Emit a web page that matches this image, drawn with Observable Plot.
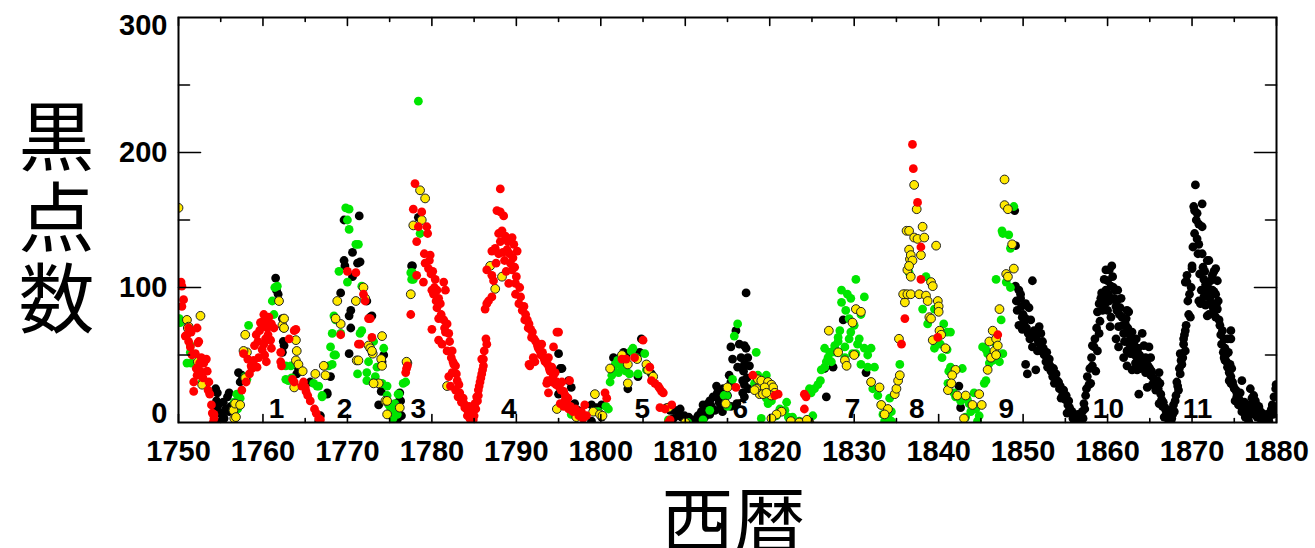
<!DOCTYPE html>
<html><head><meta charset="utf-8">
<script src="https://cdn.jsdelivr.net/npm/d3@7"></script>
<script src="https://cdn.jsdelivr.net/npm/@observablehq/plot@0.6"></script>
<style>body{margin:0;background:#fff}</style>
</head><body><div id="chart"></div>
<script>
// Monthly sunspot numbers, grouped by dot colour: [year, value]
const blackPts = [
[1754.4,25],[1754.6,22],[1754.5,16],[1754.8,14],[1754.6,11],[1755.0,7],[1755.2,5],[1755.1,1],[1754.9,0],[1755.4,3],[1756.0,22],[1755.8,19],[1756.2,12],[1756.0,8],[1755.6,10],[1755.3,15],[1757.1,37],[1757.3,30],[1757.5,35],
[1761.5,107],[1761.6,98],[1761.8,95],[1762.3,77],[1762.4,70],[1762.4,60],[1762.5,57],[1762.3,52],[1764.2,40],[1764.0,36],[1765.6,30],[1766.8,5],[1766.6,1],[1767.6,21],[1768.0,34],[1767.6,22],
[1769.6,150],[1771.4,153],[1769.6,120],[1769.7,116],[1770.6,126],[1771.2,118],[1770.6,108],[1769.2,96],[1770.2,79],[1770.4,70],[1770.2,51],[1770.4,83],[1772.7,78],[1774.3,50],[1774.0,23],[1773.7,13],[1771.5,119],[1772.3,90],[1772.9,79],[1774.1,45],[1776.0,15],[1776.3,16],[1776.1,10],[1775.9,2],[1776.4,5],[1776.2,22],[1777.7,116],[1778.4,152],[1777.6,116],
[1795.0,51],[1795.2,40],[1795.4,40],[1796.5,26],[1795.0,21],[1796.2,31],[1796.9,14],[1797.3,9],[1798.9,13],[1799.5,11],[1800.1,13],[1800.1,4],[1798.9,1],[1801.5,48],[1802.7,52],[1803.0,50],[1804.6,52],[1804.8,62],[1804.4,34],[1803.2,25],[1806.0,36],
[1807.8,11],[1808.2,9],[1808.8,9],[1809.2,5],[1809.6,4],[1808.6,3],[1809.9,5],[1810.2,2],[1810.6,1],[1811.0,0],[1811.5,5],[1811.9,8],[1812.1,13],[1812.7,14],[1812.9,16],[1813.3,19],[1813.7,27],[1813.9,18],[1813.5,9],[1812.9,6],[1814.2,12],[1814.7,19],[1814.5,25],[1815.0,20],[1815.4,30],[1815.2,35],
[1809.4,10],[1810.4,4],[1810.9,2],[1811.3,1],[1811.7,3],[1812.3,4],[1812.5,10],[1813.1,12],[1813.8,22],[1814.0,15],[1814.4,8],
[1817.2,96],[1816.0,68],[1816.4,58],[1817.0,57],[1817.2,55],[1815.4,56],[1815.6,47],[1816.6,48],[1817.4,48],[1817.0,43],[1817.6,42],[1816.2,41],[1816.9,38],[1816.8,31],[1817.0,28],[1816.8,22],[1817.0,19],[1815.4,12],[1816.1,14],[1817.3,33],[1817.5,25],
[1826.7,19],[1826.5,40],[1827.5,41],[1828.7,76],[1831.4,37],[1842.4,27],[1842.6,11],
[1849.0,157],[1849.1,131],[1849.1,101],[1849.5,98],[1849.7,95],[1849.7,92],[1851.1,105],[1850.3,88],[1850.7,85],[1849.3,83],[1849.9,78],[1850.3,77],[1850.9,76],[1849.5,72],[1849.9,69],[1850.4,70],[1851.3,68],[1851.9,71],[1852.1,66],[1851.5,63],[1850.8,62],[1852.3,60],[1851.1,56],[1851.7,53],[1852.1,53],[1852.5,50],[1850.3,43],[1851.5,39],[1850.5,36],[1853.1,47],[1852.7,45],[1852.9,41],[1853.3,38],[1853.5,34],[1853.7,29],[1854.0,31],[1854.3,25],[1854.7,21],[1854.5,18],[1855.0,17],[1855.3,13],[1855.6,9],[1855.2,7],[1856.0,5],[1856.3,3],[1856.5,6],[1856.8,1],[1856.1,0],[1857.0,8],[1857.2,14],[1857.4,20],[1857.6,34],[1857.8,28],[1858.0,29],[1858.2,42],[1858.2,57],[1858.4,56],[1858.6,38],[1858.8,53],[1859.0,66],[1858.8,82],[1859.0,88],[1859.2,92],[1859.4,83],[1859.8,98],[1860.0,105],[1859.6,106],[1859.8,113],[1860.5,116],[1860.2,113],[1860.4,101],[1860.7,100],[1860.9,98],[1861.2,98],[1861.1,90],[1860.2,90],[1860.0,83],[1860.4,78],[1861.1,83],[1861.5,85],[1861.7,78],[1862.1,73],[1862.3,83],[1862.5,82],[1861.3,71],[1860.3,71],[1861.9,66],[1862.5,66],[1862.7,62],[1862.9,67],[1864.1,66],[1861.0,62],[1861.3,56],[1863.1,58],[1862.3,53],[1861.9,48],[1862.7,51],[1863.5,48],[1864.3,57],[1864.9,56],[1863.7,43],[1863.9,40],[1862.3,42],[1862.9,39],[1863.5,39],[1864.5,48],[1865.1,48],[1864.5,37],[1865.1,35],[1866.1,37],[1865.9,31],[1865.3,28],[1864.7,26],[1863.7,21],[1865.7,24],[1866.3,21],[1866.1,14],[1866.5,12],[1866.9,9],[1866.7,4],[1867.3,5],[1867.5,1],[1867.7,6],[1867.8,13],[1868.0,16],[1868.4,24],[1868.2,30],[1868.6,36],[1868.8,43],[1868.6,51],[1869.2,53],[1869.0,58],[1869.0,62],[1869.2,68],[1869.6,80],[1869.8,78],[1869.2,104],[1869.4,104],[1870.0,114],[1869.4,109],
[1849.2,90],[1849.8,86],[1850.0,80],[1850.1,74],[1850.6,66],[1851.0,64],[1851.8,60],[1852.0,58],[1852.4,55],[1852.8,52],[1853.0,44],[1853.2,42],[1853.6,40],[1853.9,36],[1854.2,30],[1854.4,27],[1854.8,24],[1854.9,19],[1855.1,20],[1855.4,16],[1855.5,11],[1855.8,8],[1855.9,3],[1856.2,2],[1856.6,0],[1856.9,4],[1857.1,3],[1857.3,10],[1857.5,25],[1857.9,40],[1858.1,48],[1858.5,62],[1858.7,70],[1859.1,75],[1859.3,96],[1859.5,93],[1859.7,88],[1860.1,95],[1860.6,108],[1860.8,92],[1861.0,86],[1861.4,80],[1861.6,92],[1861.8,72],[1862.0,60],[1862.2,77],[1862.4,70],[1862.6,58],[1862.8,55],[1863.0,52],[1863.2,50],[1863.3,44],[1863.4,62],[1863.6,55],[1863.8,50],[1864.0,45],[1864.2,42],[1864.4,40],[1864.6,44],[1864.8,42],[1865.0,40],[1865.2,38],[1865.4,33],[1865.6,30],[1865.8,27],[1866.0,25],[1866.2,29],[1866.4,17],[1866.6,15],[1866.8,11],[1867.0,7],[1867.1,3],[1867.4,9],[1867.6,3],[1867.9,8],[1868.1,20],[1868.3,27],[1868.5,40],[1868.7,46],[1868.9,48],[1869.1,65],[1869.3,72],[1869.5,90],[1869.7,95],[1869.9,100],
[1870.4,176],[1870.2,160],[1870.3,157],[1870.6,155],[1871.2,162],[1870.8,147],[1871.2,145],[1870.6,136],[1870.8,132],[1871.2,125],[1871.8,120],[1872.0,120],[1870.0,116],[1871.4,106],[1871.6,102],[1872.2,105],[1872.4,109],[1873.0,105],[1872.8,114],[1872.6,112],[1872.4,98],[1872.6,97],[1872.8,95],[1870.8,90],[1871.0,88],[1871.4,93],[1871.6,87],[1871.8,79],[1872.0,80],[1872.8,78],[1873.0,84],[1873.2,76],[1873.6,68],[1873.8,62],[1874.6,68],[1874.2,62],[1874.6,62],[1873.9,55],[1873.8,48],[1873.9,46],[1874.2,41],[1874.4,37],[1874.6,34],[1874.4,31],[1874.6,29],[1875.0,25],[1875.3,22],[1875.3,19],[1875.9,31],[1875.1,16],[1875.5,13],[1876.0,13],[1876.5,11],[1876.9,25],[1877.3,20],[1877.5,16],[1877.6,13],[1877.8,9],[1875.9,8],[1876.3,4],[1878.1,5],[1878.5,3],[1878.9,6],[1879.3,8],[1879.5,13],[1879.7,19],[1879.9,25],[1878.7,1],[1879.1,1],[1877.0,6],[1876.7,1],
[1870.1,130],[1870.3,140],[1870.5,150],[1870.7,125],[1870.9,110],[1871.1,98],[1871.3,115],[1871.5,112],[1871.7,95],[1871.9,100],[1872.1,92],[1872.3,88],[1872.5,85],[1872.7,83],[1872.9,88],[1873.1,90],[1873.3,72],[1873.4,65],[1873.5,58],[1873.7,52],[1874.0,50],[1874.1,45],[1874.3,52],[1874.5,43],[1874.7,40],[1874.8,30],[1874.9,27],[1875.2,24],[1875.4,20],[1875.6,17],[1875.7,22],[1875.8,12],[1876.1,9],[1876.2,15],[1876.4,7],[1876.6,5],[1876.8,13],[1877.1,18],[1877.2,10],[1877.4,7],[1877.7,4],[1877.9,12],[1878.0,9],[1878.2,2],[1878.3,7],[1878.4,0],[1878.6,4],[1878.8,2],[1879.0,3],[1879.2,5],[1879.4,10],[1879.6,6],[1879.8,9],[1879.95,28]
];
const greenPts = [
[1750.1,77],[1750.2,74],[1751.0,44],[1751.4,57],[1751.4,52],[1751.5,44],[1752.8,30],[1756.9,21],[1757.0,10],[1756.6,15],[1757.1,21],[1757.3,18],[1757.9,34],[1758.1,32],[1758.3,72],
[1761.4,100],[1761.1,90],[1761.3,80],[1761.7,101],[1762.7,32],[1763.0,31],[1763.4,33],[1762.7,42],[1763.3,42],[1766.0,29],[1766.4,27],[1767.0,19],[1766.6,27],[1767.0,20],[1767.8,42],[1768.0,56],[1768.2,43],[1768.4,50],[1768.6,50],[1768.2,66],[1768.4,79],[1768.6,76],[1769.2,66],[1769.0,112],[1770.0,104],[1769.8,159],[1770.2,158],[1770.0,150],[1770.2,143],[1771.0,132],[1771.5,66],[1771.7,68],[1771.2,36],[1772.3,37],[1772.3,31],[1773.1,30],[1773.3,34],[1773.1,60],[1772.5,45],[1773.5,41],[1774.3,55],[1774.1,29],[1774.7,27],[1771.7,101],[1771.3,132],
[1774.7,20],[1774.9,13],[1775.1,11],[1775.3,8],[1775.4,3],[1775.9,6],[1776.0,21],[1776.1,21],[1776.6,29],[1776.9,30],[1775.6,14],[1777.7,111],[1777.8,106],[1777.5,111],[1777.6,106],[1778.4,238],[1778.6,140],
[1796.5,6],[1799.3,8],[1799.7,8],[1800.9,10],[1800.6,12],[1801.1,30],[1801.3,35],[1801.5,39],[1801.7,43],[1802.0,46],[1802.8,41],[1803.4,36],[1803.6,53],[1803.8,55],[1804.2,48],[1802.4,42],[1805.2,51],[1805.4,39],[1802.1,37],[1803.0,38],[1804.4,36],[1812.1,2],[1812.9,9],[1814.6,20],[1808.0,2],[1810.3,0],
[1815.8,64],[1816.2,73],[1815.6,32],[1814.9,20],[1815.0,12],[1818.4,52],[1818.6,35],[1819.6,35],[1819.2,25],[1818.2,29],[1820.2,16],[1819.6,18],[1819.8,14],[1821.2,10],[1822.0,15],[1821.8,9],[1822.2,4],[1819.0,3],[1820.8,5],[1822.7,4],[1822.9,0],[1823.5,1],[1823.9,0],[1824.5,1],[1825.1,5],
[1824.9,22],[1824.7,25],[1825.3,25],[1825.7,28],[1826.0,31],[1826.1,39],[1826.5,41],[1826.7,45],[1826.9,48],[1827.3,52],[1827.7,57],[1828.1,63],[1828.5,98],[1828.5,89],[1829.2,95],[1829.6,92],[1830.2,106],[1831.2,93],[1829.4,77],[1830.0,72],[1830.6,62],[1828.1,60],[1827.9,52],[1828.9,56],[1829.8,51],[1830.2,51],[1826.5,55],[1827.1,52],[1827.7,55],[1832.0,55],[1831.2,55],[1831.6,50],[1830.8,43],[1831.6,41],[1832.4,41],[1832.8,20],[1832.2,25],[1833.2,13],[1834.2,18],[1834.4,8],[1833.4,6],[1833.6,1],[1834.4,1],[1834.0,4],[1835.4,43],[1830.8,80],[1829.0,83],[1829.6,67],[1828.3,68],[1829.4,62],[1830.4,58],[1827.3,45],[1828.9,48],
[1836.5,111],[1838.5,108],[1838.1,84],[1839.5,84],[1838.7,73],[1840.6,73],[1841.0,67],[1841.4,67],[1839.5,55],[1840.4,48],[1840.2,58],[1841.0,54],[1841.4,41],[1841.2,38],[1842.8,40],[1841.1,29],[1841.8,22],[1842.0,19],[1842.6,16],[1843.6,14],[1843.4,17],[1844.2,22],[1843.8,8],[1844.4,10],[1844.8,5],[1844.6,1],[1843.2,4],[1845.4,29],[1845.6,31],[1845.8,51],[1845.6,54],[1845.2,56],[1846.4,46],[1846.0,44],[1847.2,45],[1847.6,51],[1846.8,58],[1847.4,76],[1846.8,106],[1848.5,100],[1848.0,104],[1847.6,140],[1848.3,139],[1848.5,129],[1848.9,160],[1847.5,142]
];
const yellowPts = [
[1750.0,159],[1751.0,76],[1751.2,71],[1751.1,70],[1752.6,79],[1752.6,46],[1752.8,28],[1752.3,45],[1756.5,9],[1756.7,14],[1756.6,3],[1756.8,4],[1757.3,13],[1757.9,33],[1758.1,52],[1757.9,65],[1757.7,53],
[1761.9,90],[1762.3,72],[1762.5,77],[1762.5,70],[1763.9,61],[1763.9,46],[1764.2,43],[1763.7,26],[1764.7,38],[1764.0,53],[1766.2,36],[1767.2,42],[1767.4,35],[1768.8,90],[1769.2,73],[1768.6,77],[1771.1,46],[1771.0,90],[1771.9,100],[1772.1,92],[1772.5,57],[1772.7,55],[1773.0,51],[1774.0,47],[1774.1,64],[1773.7,29],[1771.3,46],[1772.9,53],[1774.1,42],[1773.1,29],[1774.5,16],[1774.7,16],[1774.7,6],[1776.2,11],[1777.1,44],[1777.0,45],[1777.5,95],[1778.6,172],[1779.2,166],[1777.8,146],[1778.8,150],[1781.8,27],
[1786.9,116],[1788.3,108],[1787.5,99],
[1794.8,10],[1797.1,4],[1799.1,8],[1799.9,6],[1799.3,21],[1800.2,5],[1801.1,40],[1803.2,43],[1803.2,29],[1802.5,50],[1804.3,47],[1805.4,43],[1805.6,39],[1806.2,34],[1808.0,11],[1810.0,0],
[1814.8,14],[1815.0,26],[1818.6,32],[1819.0,31],[1819.8,30],[1820.2,28],[1820.4,26],[1819.4,26],[1818.4,25],[1818.8,21],[1818.2,24],[1820.6,22],[1820.2,20],[1819.2,21],[1819.6,22],[1821.4,8],[1820.8,6],[1820.2,3],[1822.5,1],[1824.2,0],[1824.7,0],[1823.5,0],[1824.4,2],
[1827.0,68],[1830.2,84],[1830.8,82],[1828.1,52],[1828.9,46],[1829.1,42],[1829.8,74],[1830.0,50],[1832.0,30],[1833.0,26],[1833.2,13],[1834.0,10],[1833.6,6],[1834.8,21],[1835.0,25],[1835.2,31],[1835.4,35],[1835.3,62],[1836.0,89],[1836.0,95],[1835.8,95],[1836.3,113],[1836.6,121],[1836.5,128],
[1837.1,176],[1837.4,158],[1836.2,142],[1836.5,142],[1837.1,137],[1837.5,136],[1838.1,145],[1838.3,137],[1839.7,131],[1836.7,124],[1837.9,124],[1836.9,120],[1836.5,116],[1836.7,108],[1839.1,104],[1839.3,101],[1836.3,95],[1836.7,95],[1837.7,95],[1838.5,94],[1838.7,90],[1839.9,90],[1840.0,86],[1840.0,82],[1838.9,78],[1839.1,77],[1840.1,68],[1840.3,65],[1839.3,61],[1840.8,55],[1842.0,39],[1841.6,35],[1841.1,24],[1841.5,29],[1842.2,20],[1843.2,20],[1843.0,3],[1844.0,13],[1844.8,21],[1845.1,13],[1845.8,39],[1846.2,48],[1846.6,53],[1846.8,50],[1846.0,60],[1846.4,68],[1847.2,84],[1848.0,110],[1848.2,108],[1848.9,114],[1848.7,132],[1847.8,180],[1847.8,161],[1848.2,158],[1846.8,62],[1847.0,57]
];
const redPts = [
[1750.4,101],[1750.3,104],[1750.4,86],[1750.6,91],[1750.8,64],[1751.0,65],[1751.2,70],[1751.5,67],[1752.2,70],[1752.3,59],[1751.4,56],[1751.6,50],[1751.8,30],[1751.8,23],[1752.4,60],[1752.0,51],[1752.5,44],[1753.0,44],[1753.3,47],[1753.4,38],[1753.6,30],[1753.5,24],[1753.7,21],[1752.2,35],[1752.6,38],[1752.9,33],[1754.0,7],[1754.2,6],[1754.2,3],[1754.1,0],[1753.9,13],[1752.7,48],[1752.1,40],[1751.2,60],
[1757.7,51],[1757.5,24],[1758.4,36],[1758.6,42],[1758.7,40],[1758.9,46],[1759.0,57],[1759.2,65],[1759.3,41],[1759.5,48],[1759.6,68],[1759.9,54],[1759.9,71],[1760.0,75],[1760.1,58],[1760.3,77],[1760.3,62],[1760.4,45],[1760.6,65],[1760.9,61],[1760.8,72],[1761.0,73],[1761.3,70],[1761.0,55],[1760.2,50],[1759.4,60],[1760.5,70],[1760.7,78],[1758.2,47],[1758.0,30],[1759.7,74],[1760.1,80],
[1762.1,45],[1762.2,42],[1762.1,52],[1763.1,62],[1763.7,68],[1763.9,69],[1763.5,32],[1763.7,30],[1764.6,27],[1765.1,23],[1765.3,20],[1765.6,16],[1766.1,10],[1766.3,7],[1766.6,3],[1766.8,2],[1764.8,30],[1765.0,26],
[1769.2,65],[1770.0,112],[1771.0,111],[1771.3,58],[1771.9,95],[1772.1,90],[1772.5,77],[1772.7,77],[1772.9,63],[1771.5,58],[1776.9,37],[1777.0,40],[1777.1,42],[1777.5,80],
[1778.0,177],[1777.8,158],[1778.8,156],[1778.4,145],[1779.4,145],[1779.5,140],[1778.2,134],[1778.2,109],[1779.8,124],[1779.2,118],[1779.6,114],[1779.9,110],[1780.4,106],[1779.0,104],[1781.4,104],[1780.0,98],[1780.6,98],[1781.6,98],[1780.2,95],[1780.8,92],[1780.6,85],[1780.8,77],[1781.4,76],[1781.8,73],[1780.0,69],[1781.6,67],[1782.0,66],[1780.8,61],[1781.2,58],[1781.8,53],[1782.4,53],[1782.6,43],[1782.8,42],[1782.4,37],[1782.0,34],[1783.0,31],[1782.2,27],[1782.8,24],[1783.1,19],[1783.5,15],[1783.9,11],[1784.3,8],[1784.7,6],[1784.9,9],[1784.5,3],[1784.9,2],[1785.1,14],[1785.3,19],[1785.5,24],[1785.7,30],[1785.9,36],[1786.1,42],[1785.9,47],[1786.1,47],[1786.5,58],[1786.3,84],[1786.5,88],[1786.7,90],[1787.1,93],[1786.5,113],[1787.1,109],[1787.3,105],[1787.1,127],[1787.5,129],[1788.1,134],[1787.9,140],[1788.3,142],[1787.7,157],[1788.1,156],[1788.5,153],[1788.1,173],[1789.0,134],[1789.5,137],[1789.7,132],[1790.1,127],[1789.3,118],[1789.5,113],[1789.9,103],[1789.1,103],[1789.9,95],[1790.3,88],[1790.7,83],[1791.0,76],[1791.3,76],[1791.4,70],[1791.8,63],[1791.7,69],[1792.1,62],[1792.5,57],[1792.8,53],[1791.6,42],[1791.5,43],[1792.2,45],[1792.0,48],[1793.0,58],[1793.3,47],[1793.7,43],[1793.8,48],[1794.0,38],[1794.4,56],[1794.4,35],[1794.2,41],[1794.6,37],[1795.0,67],[1794.8,67],[1793.6,29],[1793.7,31],[1794.2,30],[1794.8,30],[1795.4,30],[1796.3,31],[1795.2,29],[1795.6,23],[1793.8,22],[1795.2,14],[1795.6,12],[1796.0,14],[1795.8,17],[1796.2,10],[1798.1,13],[1797.7,8],[1797.9,3],[1798.3,5],[1800.5,22],[1800.7,18],
[1779.1,125],[1779.7,120],[1780.1,112],[1780.3,100],[1780.5,90],[1781.0,88],[1781.1,80],[1781.5,70],[1782.1,60],[1782.3,48],[1782.5,45],[1782.9,36],[1783.2,28],[1783.3,22],[1783.7,18],[1783.8,14],[1784.1,10],[1784.2,5],[1784.4,12],[1784.6,2],[1784.8,4],[1785.0,5],[1785.2,10],[1785.4,16],[1785.6,27],[1785.8,33],[1786.0,39],[1786.2,53],[1786.4,62],[1785.5,20],
[1788.7,138],[1788.9,128],[1789.2,125],[1789.6,122],[1789.8,115],[1790.0,108],[1790.4,100],[1790.5,93],[1790.9,86],[1791.1,80],[1791.5,73],[1791.9,67],[1792.3,60],[1792.6,55],[1792.9,50],[1793.1,52],[1793.4,45],[1793.9,40],[1794.3,33],[1794.7,28],[1795.0,27],[1795.3,24],[1795.8,20],[1796.1,18],[1796.4,12],[1796.7,8],[1797.0,10],[1797.4,5],[1788.6,120],[1788.8,112],[1787.6,118],[1787.9,125],[1788.4,126],
[1802.5,47],[1804.0,48],[1805.0,61],[1805.8,41],[1806.0,31],[1806.4,29],[1806.8,27],[1807.0,25],[1807.4,22],[1807.2,23],[1807.0,11],[1807.6,10],[1808.4,13],[1808.0,0],[1808.2,2],[1803.0,47],
[1816.0,26],[1818.0,35],[1820.6,20],[1821.0,21],[1824.1,21],[1824.3,19],[1824.1,10],[1835.6,58],[1836.0,77],[1836.9,206],[1837.0,188],[1837.5,163],[1837.9,130],[1837.9,106],[1839.9,63],[1847.0,65]
];
// Axis and annotation values
const xMajor = [1750,1760,1770,1780,1790,1800,1810,1820,1830,1840,1850,1860,1870,1880];
const xMinor = [1755,1765,1775,1785,1795,1805,1815,1825,1835,1845,1855,1865,1875];
const yMajor = [100,200];
const yMinor = [50,150,250];
const cycleLabels = ["1","2","3","4","5","6","7","8","9","10","11"];
const cycleYears = [1761.6,1769.65,1778.4,1789.1,1804.9,1816.5,1829.8,1837.4,1848.0,1860.1,1870.65];

const rows = pts => pts.map(([x, y]) => ({x, y}));
const tickShape = {draw(ctx, l) { ctx.moveTo(0, 0); ctx.lineTo(0, -l); }};
const tk = (data, ch, anchor, rotate, length) =>
  Plot.vector(data, {[ch]: d => d, frameAnchor: anchor, rotate, length, anchor: "start",
    shape: tickShape, stroke: "#000", strokeWidth: 1.6});
const LAT = "'Liberation Sans', Arial, Helvetica, sans-serif";
const CJK = "'Noto Sans CJK JP', 'Noto Sans CJK SC', sans-serif";
const R = 4.4;

const chart = Plot.plot({
  width: 1315, height: 548,
  marginLeft: 178, marginRight: 39, marginTop: 17, marginBottom: 126,
  x: {domain: [1750, 1880], axis: null},
  y: {domain: [0, 300], axis: null},
  style: {background: "#fff", fontFamily: LAT},
  marks: [
    Plot.dot(rows(blackPts), {x: "x", y: "y", r: R, fill: "#000", clip: true}),
    Plot.dot(rows(greenPts), {x: "x", y: "y", r: R, fill: "#00e600", clip: true}),
    Plot.dot(rows(yellowPts), {x: "x", y: "y", r: R, fill: "#ffe800", stroke: "#222", strokeWidth: 1, clip: true}),
    Plot.dot(rows(redPts), {x: "x", y: "y", r: R, fill: "#ff0000", clip: true}),
    tk(xMajor, "x", "bottom", 0, 8), tk(xMinor, "x", "bottom", 0, 4),
    tk(xMajor, "x", "top", 180, 8), tk(xMinor, "x", "top", 180, 4),
    tk(yMajor, "y", "left", 90, 22), tk(yMinor, "y", "left", 90, 11),
    tk(yMajor, "y", "right", -90, 22), tk(yMinor, "y", "right", -90, 11),
    Plot.frame({stroke: "#000", strokeWidth: 2}),
    Plot.text(cycleLabels, {x: (d, i) => cycleYears[i], text: d => d, frameAnchor: "bottom", lineAnchor: "bottom",
      dy: -5, fontSize: 28, fontWeight: "bold", fill: "#000"}),
    Plot.text(xMajor, {x: d => d, text: d => String(d), frameAnchor: "bottom", lineAnchor: "top", dy: 18,
      fontSize: 29, fontWeight: "bold"}),
    Plot.text(yMajor, {y: d => d, text: d => String(d), frameAnchor: "left", textAnchor: "end", dx: -11,
      fontSize: 29, fontWeight: "bold"}),
    Plot.text([0], {y: d => d, text: d => String(d), frameAnchor: "left", textAnchor: "end", dx: -11, lineAnchor: "bottom",
      fontSize: 29, fontWeight: "bold"}),
    Plot.text([300], {y: d => d, text: d => String(d), frameAnchor: "left", textAnchor: "end", dx: -11, lineAnchor: "top", dy: -3,
      fontSize: 29, fontWeight: "bold"}),
    Plot.text(["黒\n点\n数"], {frameAnchor: "left", dx: -122, textAnchor: "middle", lineAnchor: "middle",
      lineHeight: 1.07, fontSize: 76, fontFamily: CJK}),
    Plot.text(["西暦"], {frameAnchor: "bottom", dx: 6, dy: 124, lineAnchor: "bottom", fontSize: 72, fontFamily: CJK})
  ]
});
document.getElementById("chart").appendChild(chart);
</script>
</body></html>
